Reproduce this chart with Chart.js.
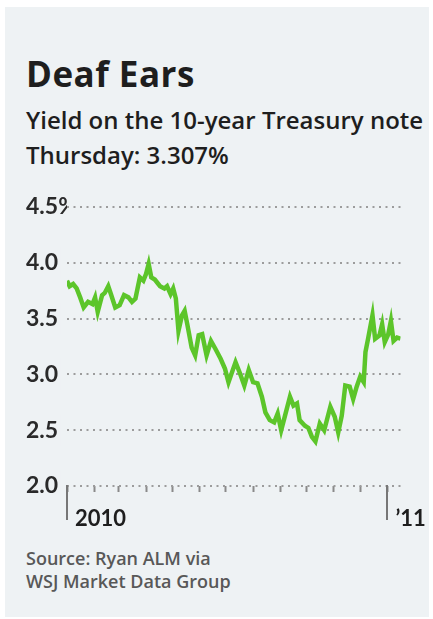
<!DOCTYPE html>
<html>
<head>
<meta charset="utf-8">
<script src="https://cdn.jsdelivr.net/npm/chart.js@4"></script>
<style>
  body { margin: 0; background: #fff; width: 433px; height: 619px; overflow: hidden; }
  #panel { position: absolute; left: 5px; top: 7px; width: 424px; height: 610px; background: #eef2f4; }
  .t { position: absolute; left: 26px; font-family: "Open Sans", sans-serif; color: #1e1e1e; white-space: nowrap; font-weight: 600; line-height: 1; }
  #title { top: 56px; font-size: 35px; font-weight: 700; letter-spacing: 0.5px; }
  #sub1 { top: 108px; font-size: 24px; }
  #sub2 { top: 143px; font-size: 24px; }
  .src { position: absolute; left: 26px; font-family: "Open Sans", sans-serif; color: #585858; font-size: 18px; font-weight: 600; white-space: nowrap; line-height: 1; }
  #src1 { top: 549px; }
  #src2 { top: 572px; }
  #wrap { position: absolute; left: 0; top: 180px; width: 433px; height: 360px; }
</style>
</head>
<body>
<div id="panel"></div>
<div class="t" id="title">Deaf Ears</div>
<div class="t" id="sub1">Yield on the 10-year Treasury note</div>
<div class="t" id="sub2">Thursday: 3.307%</div>
<div class="src" id="src1">Source: Ryan ALM via</div>
<div class="src" id="src2">WSJ Market Data Group</div>
<div id="wrap"><canvas id="myChart"></canvas></div>
<script>
// 日数（2010年1月1日から）
const days = [0, 3, 7, 11, 15, 19, 24, 29, 32, 35, 40, 43, 47, 50, 55, 60, 65, 70, 74, 78,
  83, 87, 90, 93, 96, 100, 106, 111, 114, 118, 121, 124, 127, 131, 134, 137, 142, 146, 150,
  154, 159, 164, 169, 175, 180, 184, 192, 197, 202, 207, 212, 217, 222, 226, 231, 236, 240,
  244, 248, 254, 258, 262, 265, 271, 275, 279, 283, 288, 293, 300, 305, 309, 313, 317, 322,
  326, 330, 334, 338, 340, 343, 348, 351, 356, 359, 362, 366, 369, 372, 376, 380];
// 10年債利回り（%）
const yields = [3.84, 3.79, 3.81, 3.77, 3.69, 3.60, 3.65, 3.63, 3.69, 3.56, 3.71, 3.73, 3.79,
  3.72, 3.60, 3.62, 3.71, 3.69, 3.65, 3.68, 3.87, 3.84, 3.90, 3.99, 3.87, 3.85, 3.79, 3.77,
  3.79, 3.72, 3.77, 3.68, 3.39, 3.53, 3.57, 3.45, 3.24, 3.17, 3.35, 3.36, 3.17, 3.30, 3.23,
  3.14, 3.05, 2.93, 3.11, 3.01, 2.90, 3.04, 2.93, 2.92, 2.80, 2.66, 2.59, 2.57, 2.65, 2.50,
  2.62, 2.80, 2.72, 2.74, 2.59, 2.54, 2.52, 2.44, 2.40, 2.56, 2.50, 2.71, 2.62, 2.48, 2.63,
  2.90, 2.89, 2.78, 2.89, 2.98, 2.93, 3.20, 3.32, 3.53, 3.32, 3.35, 3.45, 3.29, 3.36, 3.48,
  3.30, 3.33, 3.32];
// 月の区切り（目盛り）
const monthTicks = [0, 31, 59, 90, 120, 151, 181, 212, 243, 273, 304, 334, 365];
const yTicks = [2.0, 2.5, 3.0, 3.5, 4.0, 4.5];
const yearLabels = { 0: '2010', 365: '\u201911' };

// 年の区切りの縦線
const yearBars = {
  id: 'yearBars',
  afterDraw(chart) {
    const ctx = chart.ctx;
    const x = chart.scales.x;
    const bottom = chart.chartArea.bottom;
    ctx.save();
    ctx.strokeStyle = '#777';
    ctx.lineWidth = 2;
    [0, 365].forEach(v => {
      const px = Math.round(x.getPixelForValue(v));
      ctx.beginPath();
      ctx.moveTo(px, bottom - 1);
      ctx.lineTo(px, bottom + 34);
      ctx.stroke();
    });
    ctx.restore();
  }
};

const config = {
  type: 'line',
  data: {
    datasets: [{
      data: days.map((d, i) => ({ x: d, y: yields[i] })),
      borderColor: '#5cc52a',
      borderWidth: 4.5,
      pointRadius: 0,
      tension: 0,
      fill: false
    }]
  },
  options: {
    responsive: true,
    maintainAspectRatio: false,
    animation: false,
    layout: { padding: { left: 26, right: 31, top: 27, bottom: 0 } },
    plugins: { legend: { display: false }, tooltip: { enabled: false } },
    scales: {
      x: {
        type: 'linear',
        min: 0,
        max: 380,
        afterBuildTicks: s => { s.ticks = monthTicks.map(v => ({ value: v })); },
        afterFit: s => { s.height = 54; },
        border: { display: false },
        grid: { drawOnChartArea: false, drawTicks: true, tickLength: 6, tickWidth: 2, tickColor: '#8a8a8a' },
        ticks: {
          autoSkip: false,
          maxRotation: 0,
          align: 'start',
          labelOffset: 8,
          padding: 14,
          color: '#1e1e1e',
          font: { family: 'Lato', size: 22, weight: 'bold' },
          callback: v => yearLabels[v] || ''
        }
      },
      y: {
        min: 2.0,
        max: 4.5,
        afterBuildTicks: s => { s.ticks = yTicks.map(v => ({ value: v })); },
        afterFit: s => { s.width = 41; },
        border: { display: false, dash: [2, 4.5] },
        grid: { color: '#9c9c9c', lineWidth: 2, drawTicks: false, borderDash: [2, 4.5] },
        ticks: {
          crossAlign: 'far',
          padding: 0,
          color: '#2a2a2a',
          font: { family: 'Lato', size: 23, weight: 'bold' },
          showLabelBackdrop: true,
          backdropColor: '#eef2f4',
          backdropPadding: 2,
          callback: v => v === 4.5 ? '4.5%' : v.toFixed(1)
        }
      }
    }
  },
  plugins: [yearBars]
};

new Chart(document.getElementById('myChart'), config);
</script>
</body>
</html>
